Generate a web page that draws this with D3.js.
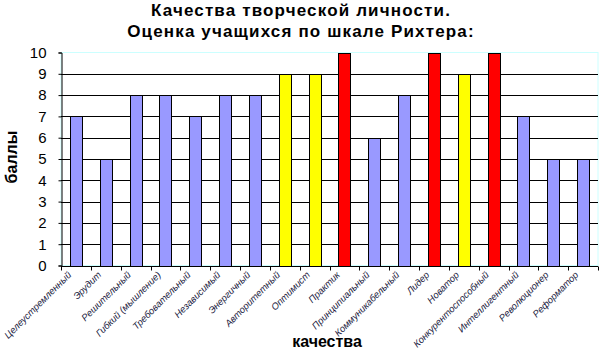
<!DOCTYPE html>
<html><head><meta charset="utf-8">
<script src="https://cdn.jsdelivr.net/npm/d3@7"></script>
<style>body{margin:0;background:#fff}svg{display:block}</style>
</head><body>
<script>
const categories = ["Целеустремленный","Эрудит","Решительный","Гибкий (мышление)","Требовательный","Независимый","Энергичный","Авторитетный","Оптимист","Практик","Принципиальный","Коммуникабельный","Лидер","Новатор","Конкурентоспособный","Интеллигентный","Революционер","Реформатор"];
const values = [7,5,8,8,7,8,8,9,9,10,6,8,10,9,10,7,5,5];
const yTicks = [0,1,2,3,4,5,6,7,8,9,10];
const titleLines = ["Качества творческой личности.","Оценка учащихся по шкале Рихтера:"];
const yTitle = "баллы";
const xTitle = "качества";

const W = 603, H = 356;
const m = {left:61, right:5, top:52.5, bottom:90.5};
const svg = d3.select("body").append("svg").attr("width",W).attr("height",H);
const x = d3.scaleBand().domain(categories).range([m.left, W-m.right]).paddingInner(0.6).paddingOuter(0.3);
const y = d3.scaleLinear().domain([0,10]).range([H-m.bottom, m.top]);
const color = d3.scaleThreshold().domain([9,10]).range(["#9999ff","#ffff00","#ff0000"]);

// plot border (light cyan)
svg.append("rect").attr("x",m.left).attr("y",m.top).attr("width",W-m.right-m.left).attr("height",H-m.bottom-m.top)
  .attr("fill","none").attr("stroke","#ccffff");

// gridlines
svg.append("g").selectAll("line").data(yTicks.filter(d=>d>0&&d<10)).join("line")
  .attr("x1",m.left).attr("x2",W-m.right).attr("y1",d=>Math.round(y(d))+0.5).attr("y2",d=>Math.round(y(d))+0.5)
  .attr("stroke","#000");

// bars
svg.append("g").selectAll("rect").data(values).join("rect")
  .attr("x",(d,i)=>Math.round(x(categories[i]))+0.5)
  .attr("y",d=>Math.round(y(d))+0.5)
  .attr("width",Math.round(x.bandwidth()))
  .attr("height",d=>Math.round(y(0))-Math.round(y(d)))
  .attr("fill",d=>color(d)).attr("stroke","#000");

// y axis
const yAxis = svg.append("g").attr("transform",`translate(${m.left+0.5},0)`)
  .call(d3.axisLeft(y).tickValues(yTicks).tickSize(3).tickPadding(12).tickFormat(d3.format("d")));
yAxis.selectAll("text").attr("font-family","Arial, Liberation Sans, sans-serif").attr("font-size",15).attr("fill","#000");
yAxis.selectAll("line").attr("stroke","#000");
yAxis.select(".domain").attr("stroke","#000");

// x axis
const xAxis = svg.append("g").attr("transform",`translate(0,${Math.round(y(0))+0.5})`);
xAxis.append("line").attr("x1",m.left).attr("x2",W-m.right).attr("stroke","#000");
const bounds = d3.range(categories.length+1).map(i=>m.left + i*(W-m.right-m.left)/categories.length);
xAxis.selectAll("line.t").data(bounds).join("line").attr("class","t")
  .attr("x1",d=>Math.round(d)+0.5).attr("x2",d=>Math.round(d)+0.5).attr("y1",0).attr("y2",4).attr("stroke","#000");
xAxis.selectAll("text").data(categories).join("text")
  .attr("transform",d=>`translate(${x(d)+x.bandwidth()/2-4},${9}) rotate(-45)`)
  .attr("text-anchor","end")
  .attr("font-family","Arial, Liberation Sans, sans-serif").attr("font-style","italic").attr("font-size",9.5)
  .attr("fill","#1a1a40").text(d=>d);

// titles
svg.append("g").selectAll("text").data(titleLines).join("text")
  .attr("x",301).attr("y",(d,i)=>15.5+i*21.5).attr("text-anchor","middle")
  .attr("font-family","Arial, Liberation Sans, sans-serif").attr("font-weight","bold").attr("font-size",17)
  .attr("letter-spacing","1.15px").text(d=>d);
svg.append("text").attr("transform",`translate(17,157) rotate(-90)`).attr("text-anchor","middle")
  .attr("font-family","Arial, Liberation Sans, sans-serif").attr("font-weight","bold").attr("font-size",16).text(yTitle);
svg.append("text").attr("x",327).attr("y",347).attr("text-anchor","middle")
  .attr("font-family","Arial, Liberation Sans, sans-serif").attr("font-weight","bold").attr("font-size",16).text(xTitle);
</script>
</body></html>
